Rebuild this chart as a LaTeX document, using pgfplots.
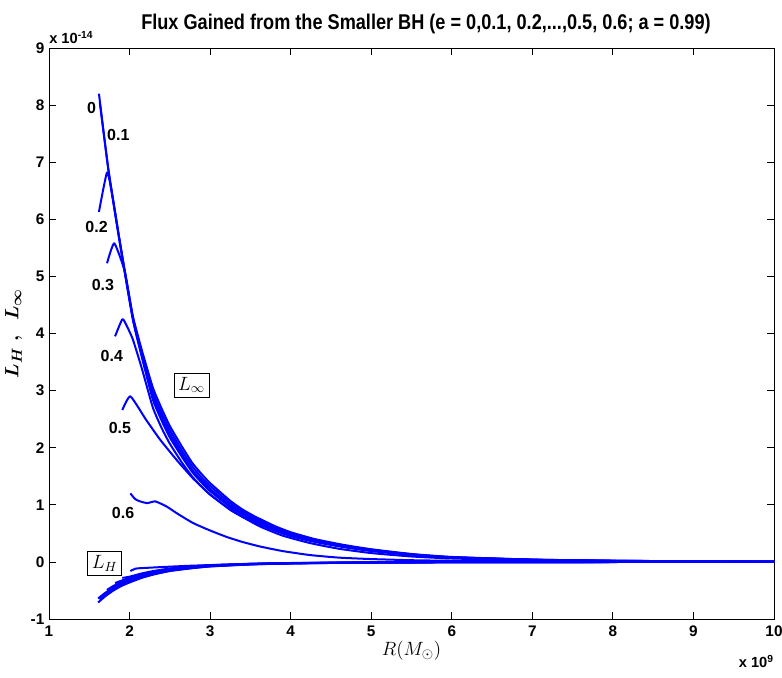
\documentclass[border=0pt]{standalone}
\usepackage{pgfplots}
\pgfplotsset{compat=1.18}
\usetikzlibrary{calc}
\usepackage{graphicx}
\usepackage{amsmath}
\usepackage{bm}
\usepackage{fontspec}
\setmainfont{Liberation Sans}
\tikzset{bl/.style={blue, solid, no markers, line width=1.5pt, line join=round, smooth, tension=0.3}}
\begin{document}
\begin{tikzpicture}
\begin{axis}[
  scale only axis, width=543.75pt, height=428.25pt,
  xmin=1, xmax=10, ymin=-1, ymax=9,
  xtick={1,...,10}, ytick={-1,...,9},
  tick align=inside, major tick length=5pt,
  scaled ticks=false,
  axis line style={line width=0.7pt},
  tick style={line width=0.6pt, black},
  /pgf/number format/assume math mode=true,
  ticklabel style={font=\bfseries\fontsize{11.5}{13}\selectfont},
  xticklabel style={yshift=-1.5pt},
  clip=true,
]
\coordinate (SW) at (rel axis cs:0,0);
\coordinate (NE) at (rel axis cs:1,1);
% ---- L_infinity ----
% e = 0
\addplot[bl] coordinates {(1.62,8.20)(1.74,6.83)(1.88,5.58)(2.04,4.25)(2.15,3.60)(2.29,2.84)(2.40,2.47)(2.50,2.18)(2.65,1.84)(2.78,1.57)(2.90,1.38)(3.00,1.24)(3.25,0.96)(3.40,0.83)(3.55,0.72)(3.80,0.57)(4.00,0.47)(4.30,0.36)(4.65,0.27)(5.00,0.20)(5.50,0.125)(6.00,0.078)(7.00,0.037)(8.00,0.019)(9.00,0.010)(10.0,0.005)};
% e = 0.1
\addplot[bl] coordinates {(1.63,8.05)(1.74,6.85)(1.88,5.60)(2.04,4.27)(2.15,3.63)(2.29,2.90)(2.40,2.53)(2.50,2.24)(2.65,1.89)(2.78,1.61)(2.90,1.42)(3.00,1.28)(3.25,0.99)(3.40,0.86)(3.55,0.74)(3.80,0.59)(4.00,0.48)(4.30,0.37)(4.65,0.28)(5.00,0.206)(5.50,0.129)(6.00,0.080)(7.00,0.038)(8.00,0.020)(9.00,0.010)(10.0,0.005)};
% e = 0.2
\addplot[bl] coordinates {(1.62,6.13)(1.72,6.82)(1.78,6.47)(1.88,5.60)(2.04,4.29)(2.15,3.67)(2.29,2.97)(2.40,2.60)(2.50,2.31)(2.65,1.95)(2.78,1.67)(2.90,1.47)(3.00,1.33)(3.25,1.03)(3.40,0.89)(3.55,0.77)(3.80,0.61)(4.00,0.50)(4.30,0.385)(4.65,0.29)(5.00,0.214)(5.50,0.134)(6.00,0.083)(7.00,0.040)(8.00,0.020)(9.00,0.011)(10.0,0.005)};
% e = 0.3
\addplot[bl] coordinates {(1.72,5.23)(1.81,5.58)(1.94,5.09)(2.04,4.31)(2.15,3.72)(2.29,3.05)(2.40,2.68)(2.50,2.38)(2.65,2.02)(2.78,1.73)(2.90,1.53)(3.00,1.38)(3.25,1.07)(3.40,0.92)(3.55,0.80)(3.80,0.63)(4.00,0.52)(4.30,0.40)(4.65,0.30)(5.00,0.222)(5.50,0.139)(6.00,0.087)(7.00,0.041)(8.00,0.021)(9.00,0.011)(10.0,0.006)};
% e = 0.4
\addplot[bl] coordinates {(1.82,3.95)(1.91,4.25)(1.96,4.15)(2.04,3.90)(2.15,3.40)(2.29,2.70)(2.40,2.34)(2.50,2.07)(2.65,1.74)(2.78,1.49)(2.90,1.31)(3.00,1.18)(3.25,0.91)(3.40,0.79)(3.55,0.69)(3.80,0.55)(4.00,0.45)(4.30,0.35)(4.65,0.26)(5.00,0.19)(5.50,0.12)(6.00,0.074)(7.00,0.035)(8.00,0.018)(9.00,0.009)(10.0,0.005)};
% e = 0.5
\addplot[bl] coordinates {(1.91,2.66)(2.01,2.90)(2.20,2.50)(2.38,2.14)(2.60,1.76)(2.79,1.46)(3.00,1.18)(3.20,0.97)(3.40,0.79)(3.62,0.62)(3.90,0.46)(4.24,0.33)(4.60,0.23)(5.00,0.155)(5.50,0.095)(6.00,0.060)(7.00,0.028)(8.00,0.014)(9.00,0.007)(10.0,0.004)};
% e = 0.6
\addplot[bl] coordinates {(2.01,1.20)(2.07,1.10)(2.13,1.06)(2.22,1.03)(2.32,1.06)(2.46,0.97)(2.60,0.84)(2.79,0.68)(3.00,0.55)(3.20,0.44)(3.40,0.35)(3.62,0.27)(3.90,0.19)(4.24,0.12)(4.60,0.075)(5.00,0.05)(5.50,0.03)(6.00,0.02)(7.00,0.009)(8.00,0.005)(9.00,0.003)(10.0,0.002)};
% ---- L_H ----
\addplot[bl] coordinates {(1.61,-0.71)(1.70,-0.60)(1.80,-0.50)(1.90,-0.42)(2.00,-0.36)(2.15,-0.28)(2.30,-0.22)(2.50,-0.16)(2.75,-0.115)(3.00,-0.08)(3.50,-0.045)(4.00,-0.027)(5.00,-0.011)(6.00,-0.005)(8.00,-0.0015)(10.0,-0.0006)};
\addplot[bl] coordinates {(1.63,-0.66)(1.70,-0.576)(1.80,-0.48)(1.90,-0.403)(2.00,-0.346)(2.15,-0.269)(2.30,-0.211)(2.50,-0.154)(2.75,-0.11)(3.00,-0.077)(3.50,-0.043)(4.00,-0.026)(5.00,-0.0106)(6.00,-0.0048)(8.00,-0.0014)(10.0,-0.0006)};
\addplot[bl] coordinates {(1.61,-0.64)(1.70,-0.54)(1.80,-0.45)(1.90,-0.378)(2.00,-0.324)(2.15,-0.252)(2.30,-0.198)(2.50,-0.144)(2.75,-0.104)(3.00,-0.072)(3.50,-0.04)(4.00,-0.024)(5.00,-0.01)(6.00,-0.0045)(8.00,-0.0014)(10.0,-0.0005)};
\addplot[bl] coordinates {(1.72,-0.49)(1.80,-0.42)(1.90,-0.353)(2.00,-0.302)(2.15,-0.235)(2.30,-0.185)(2.50,-0.134)(2.75,-0.097)(3.00,-0.067)(3.50,-0.038)(4.00,-0.023)(5.00,-0.009)(6.00,-0.0042)(8.00,-0.0013)(10.0,-0.0005)};
\addplot[bl] coordinates {(1.82,-0.37)(1.90,-0.328)(2.00,-0.281)(2.15,-0.218)(2.30,-0.172)(2.50,-0.125)(2.75,-0.09)(3.00,-0.062)(3.50,-0.035)(4.00,-0.021)(5.00,-0.0086)(6.00,-0.004)(8.00,-0.0012)(10.0,-0.0005)};
\addplot[bl] coordinates {(1.91,-0.28)(2.00,-0.259)(2.15,-0.202)(2.30,-0.158)(2.50,-0.115)(2.75,-0.083)(3.00,-0.058)(3.50,-0.032)(4.00,-0.019)(5.00,-0.008)(6.00,-0.0036)(8.00,-0.0011)(10.0,-0.0004)};
\addplot[bl] coordinates {(2.01,-0.16)(2.07,-0.12)(2.13,-0.11)(2.40,-0.09)(2.70,-0.07)(3.00,-0.055)(3.50,-0.035)(4.00,-0.022)(5.00,-0.01)(6.00,-0.005)(8.00,-0.0015)(10.0,-0.0006)};
% ---- labels ----
\begin{scope}[every node/.style={font=\bfseries\fontsize{12}{14}\selectfont}]
\node at (axis cs:1.53,7.95) {0};
\node at (axis cs:1.86,7.48) {0.1};
\node at (axis cs:1.59,5.87) {0.2};
\node at (axis cs:1.67,4.85) {0.3};
\node at (axis cs:1.78,3.60) {0.4};
\node at (axis cs:1.88,2.34) {0.5};
\node at (axis cs:1.92,0.85) {0.6};
\end{scope}
\node[draw, fill=white, line width=0.6pt, inner sep=3pt, font=\fontsize{14.5}{16}\selectfont] at (axis cs:2.77,3.10) {$L_\infty$};
\node[draw, fill=white, line width=0.6pt, inner sep=3pt, font=\fontsize{14.5}{16}\selectfont] at (axis cs:1.69,-0.03) {$L_H$};
\end{axis}
\node[font=\bfseries\fontsize{16}{18}\selectfont] at ($(SW)!0.52!(NE|-SW) + (0,428.25pt) + (0,18pt)$) {\scalebox{0.85}[1]{Flux Gained from the Smaller BH (e = 0,0.1, 0.2,...,0.5, 0.6; a = 0.99)}};
\node[anchor=south west, inner sep=0pt, font=\bfseries\fontsize{11}{13}\selectfont] at ([yshift=3pt]SW|-NE) {x 10\textsuperscript{-14}};
\node[anchor=north east, inner sep=0pt, font=\bfseries\fontsize{11}{13}\selectfont] at ([yshift=-27pt]NE|-SW) {x 10\textsuperscript{9}};
\node[font=\fontsize{15}{17}\selectfont] at ($(SW)!0.5!(NE|-SW) + (0,-24pt)$) {$R(M_\odot)$};
\node[rotate=90, font=\fontsize{15.5}{17}\selectfont] at ($(SW)!0.5!(SW|-NE) + (-26.5pt,0)$) {$\boldsymbol{L_H\ ,\ \ L_\infty}$};
\pgfresetboundingbox
\path ([xshift=-36.75pt,yshift=-43.5pt]SW) rectangle ([xshift=6pt,yshift=36pt]NE);
\end{tikzpicture}
\end{document}
